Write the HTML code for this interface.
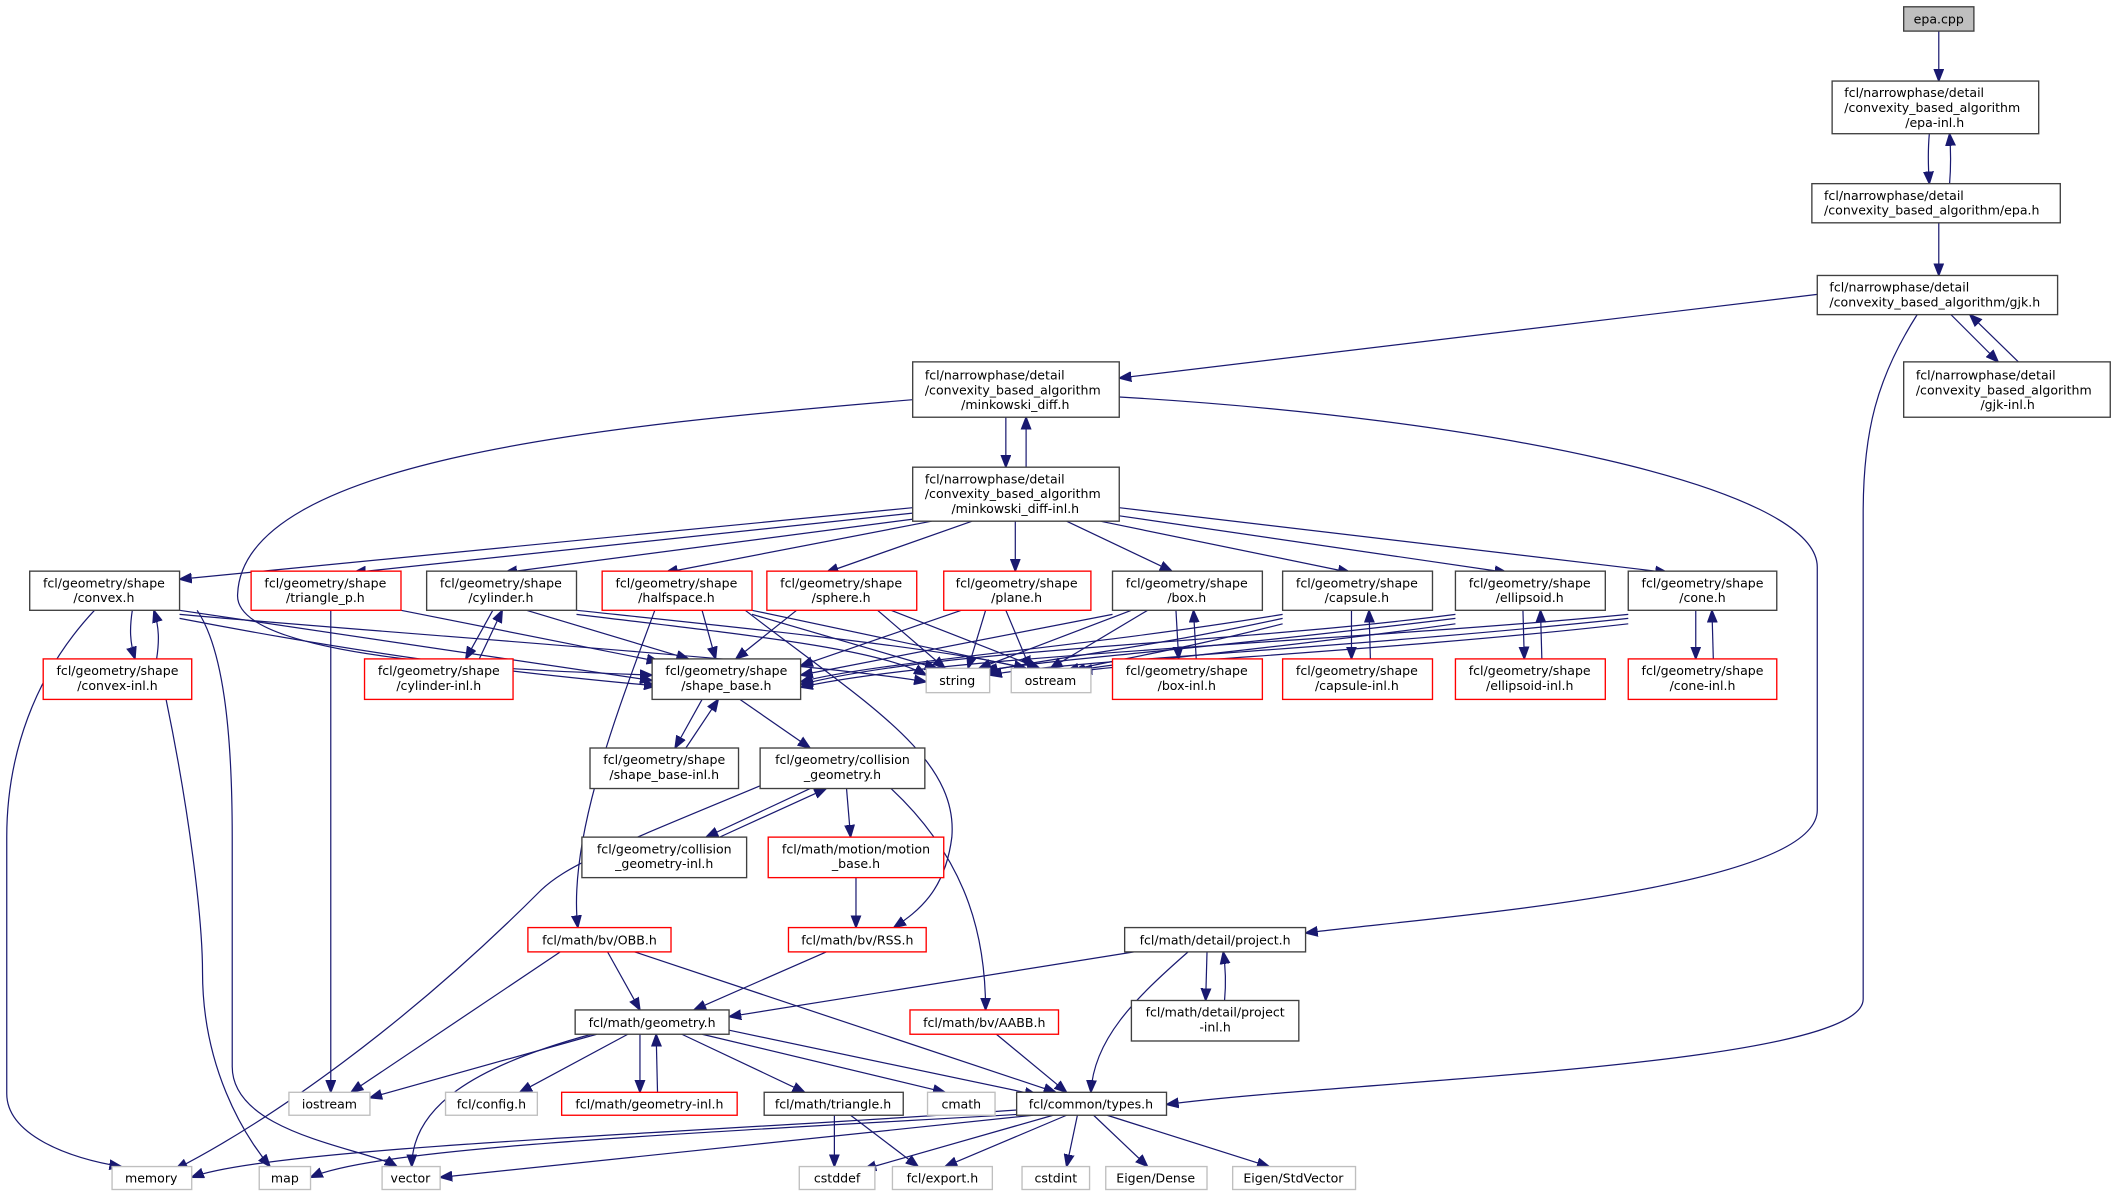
<!DOCTYPE html>
<html><head><meta charset="utf-8"><style>
html,body{margin:0;padding:0;background:#fff;}
svg{display:block;}
text{font-family:"DejaVu Sans","Liberation Sans",sans-serif;font-size:9.3px;fill:#000;}
.b{fill:#fff;stroke:#404040;stroke-width:1;}
.r{fill:#fff;stroke:#ff0000;stroke-width:1;}
.g{fill:#fff;stroke:#bfbfbf;stroke-width:1;}
.e{fill:none;stroke:#191970;stroke-width:0.9;marker-end:url(#a);}
</style></head><body>
<svg width="2117" height="1199" viewBox="0 0 1568 888" xmlns="http://www.w3.org/2000/svg">
<defs><marker id="a" markerWidth="10" markerHeight="8" refX="9" refY="4" orient="auto" markerUnits="userSpaceOnUse"><path d="M0,0.5 L9,4 L0,7.5 Z" fill="#191970" stroke="#191970"/></marker></defs>

<g>
<path class="e" d="M1436,23 L1436,60"/>
<path class="e" d="M1429,99 C1428,110 1428,122 1429,136"/>
<path class="e" d="M1444,136 C1445,124 1445,112 1444,99"/>
<path class="e" d="M1436,165 L1436,204"/>
<path class="e" d="M1445,233 L1480,268"/>
<path class="e" d="M1495,268 L1459,233"/>
<path class="e" d="M1346,218 L829,280"/>
<path class="e" d="M1420,233 C1390,280 1380,320 1380,380 L1380,740 C1380,790 1000,800 864,818"/>
<path class="e" d="M745,309 L745,346"/>
<path class="e" d="M760,346 L760,309"/>
<path class="e" d="M676,296 C450,315 180,340 176,440 C172,490 400,497 483,500"/>
<path class="e" d="M829,294 C1100,310 1346,360 1346,420 L1346,600 C1346,660 1050,680 967,691"/>
<path class="e" d="M676,376 L133,429"/>
<path class="e" d="M676,380 L262,424"/>
<path class="e" d="M680,384 L374,424"/>
<path class="e" d="M690,386 L493,424"/>
<path class="e" d="M720,386 L612,424"/>
<path class="e" d="M752,386 L752,423"/>
<path class="e" d="M790,386 L868,423"/>
<path class="e" d="M815,386 L1000,424"/>
<path class="e" d="M829,382 L1116,424"/>
<path class="e" d="M829,376 L1235,424"/>
<path class="e" d="M133,452 L483,504"/>
<path class="e" d="M133,458 C300,490 400,500 486,508"/>
<path class="e" d="M133,455 C300,470 600,490 686,505"/>
<path class="e" d="M98,452 C96,465 96,475 100,488"/>
<path class="e" d="M116,488 C118,475 118,465 114,452"/>
<path class="e" d="M70,452 C25,500 5,560 5,620 L5,810 C5,840 50,858 90,864"/>
<path class="e" d="M146,452 C165,480 172,540 172,620 L172,790 C172,840 270,850 294,864"/>
<path class="e" d="M123,518 C140,600 150,680 150,720 C150,790 180,840 200,864"/>
<path class="e" d="M297,452 L488,490"/>
<path class="e" d="M245,452 L245,809"/>
<path class="e" d="M390,452 L510,488"/>
<path class="e" d="M427,455 C550,470 650,480 686,500"/>
<path class="e" d="M427,452 C550,465 700,480 760,495"/>
<path class="e" d="M365,452 L345,488"/>
<path class="e" d="M355,488 L372,452"/>
<path class="e" d="M520,452 L530,488"/>
<path class="e" d="M557,455 L694,495"/>
<path class="e" d="M557,452 L760,495"/>
<path class="e" d="M485,452 C460,520 420,620 428,687"/>
<path class="e" d="M552,452 C640,520 710,560 705,620 C700,660 680,675 662,687"/>
<path class="e" d="M590,452 L545,488"/>
<path class="e" d="M650,452 L700,495"/>
<path class="e" d="M660,452 L770,495"/>
<path class="e" d="M712,452 L593,493"/>
<path class="e" d="M730,452 L717,495"/>
<path class="e" d="M745,452 L763,495"/>
<path class="e" d="M824,455 L593,500"/>
<path class="e" d="M838,452 L725,495"/>
<path class="e" d="M850,452 L778,495"/>
<path class="e" d="M871,452 L873,488"/>
<path class="e" d="M886,488 L884,452"/>
<path class="e" d="M950,455 C800,480 650,490 593,505"/>
<path class="e" d="M950,458 C850,480 760,490 728,498"/>
<path class="e" d="M950,462 C880,480 820,490 790,497"/>
<path class="e" d="M1001,452 L1001,488"/>
<path class="e" d="M1015,488 L1014,452"/>
<path class="e" d="M1078,455 C900,478 700,480 593,507"/>
<path class="e" d="M1078,458 C900,480 760,490 730,497"/>
<path class="e" d="M1078,462 C950,480 830,490 795,497"/>
<path class="e" d="M1128,452 L1129,488"/>
<path class="e" d="M1142,488 L1141,452"/>
<path class="e" d="M1206,455 C1000,475 700,485 593,509"/>
<path class="e" d="M1206,458 C1000,480 780,490 733,500"/>
<path class="e" d="M1206,462 C1050,480 850,490 800,497"/>
<path class="e" d="M1256,452 L1256,488"/>
<path class="e" d="M1269,488 L1268,452"/>
<path class="e" d="M520,518 L500,554"/>
<path class="e" d="M508,554 L532,518"/>
<path class="e" d="M548,518 L600,554"/>
<path class="e" d="M600,584 L523,620"/>
<path class="e" d="M533,620 L612,584"/>
<path class="e" d="M627,584 L630,620"/>
<path class="e" d="M563,582 C460,625 420,640 400,660 C300,760 200,830 130,866"/>
<path class="e" d="M660,584 C720,640 730,700 730,748"/>
<path class="e" d="M634,650 L634,687"/>
<path class="e" d="M612,705 L514,748"/>
<path class="e" d="M450,705 L474,748"/>
<path class="e" d="M415,705 L260,809"/>
<path class="e" d="M470,705 L782,809"/>
<path class="e" d="M840,705 L540,753"/>
<path class="e" d="M880,705 C840,740 810,770 808,809"/>
<path class="e" d="M894,705 L893,741"/>
<path class="e" d="M907,741 C908,730 908,718 906,705"/>
<path class="e" d="M738,766 L790,809"/>
<path class="e" d="M442,766 L274,813"/>
<path class="e" d="M438,766 C350,790 305,820 305,864"/>
<path class="e" d="M465,766 L385,809"/>
<path class="e" d="M474,766 L474,809"/>
<path class="e" d="M487,809 L486,766"/>
<path class="e" d="M505,766 L596,809"/>
<path class="e" d="M520,766 L700,809"/>
<path class="e" d="M540,763 L768,811"/>
<path class="e" d="M618,826 L618,864"/>
<path class="e" d="M630,826 L680,864"/>
<path class="e" d="M755,822 C500,840 200,850 142,872"/>
<path class="e" d="M760,825 C500,840 280,850 230,872"/>
<path class="e" d="M765,826 L326,872"/>
<path class="e" d="M780,826 L640,866"/>
<path class="e" d="M790,826 L700,864"/>
<path class="e" d="M798,826 L790,864"/>
<path class="e" d="M810,826 L850,864"/>
<path class="e" d="M820,826 L940,864"/>
</g>

<g>
<rect x="1410" y="5" width="52" height="18" fill="#bfbfbf" stroke="#404040"/><text x="1436" y="17.5" text-anchor="middle">epa.cpp</text>
<rect class="b" x="1357" y="60" width="153" height="39"/><text x="1366" y="72">fcl/narrowphase/detail</text><text x="1366" y="83">/convexity_based_algorithm</text><text x="1433" y="94" text-anchor="middle">/epa-inl.h</text>
<rect class="b" x="1342" y="136" width="184" height="29"/><text x="1351" y="148">fcl/narrowphase/detail</text><text x="1351" y="159">/convexity_based_algorithm/epa.h</text>
<rect class="b" x="1346" y="204" width="178" height="29"/><text x="1355" y="216">fcl/narrowphase/detail</text><text x="1355" y="227">/convexity_based_algorithm/gjk.h</text>
<rect class="b" x="1410" y="268" width="153" height="41"/><text x="1419" y="281">fcl/narrowphase/detail</text><text x="1419" y="292">/convexity_based_algorithm</text><text x="1487" y="303" text-anchor="middle">/gjk-inl.h</text>
<rect class="b" x="676" y="268" width="153" height="41"/><text x="685" y="281">fcl/narrowphase/detail</text><text x="685" y="292">/convexity_based_algorithm</text><text x="752" y="303" text-anchor="middle">/minkowski_diff.h</text>
<rect class="b" x="676" y="346" width="153" height="40"/><text x="685" y="358">fcl/narrowphase/detail</text><text x="685" y="369">/convexity_based_algorithm</text><text x="752" y="380" text-anchor="middle">/minkowski_diff-inl.h</text>
</g>
<g text-anchor="middle">
<rect class="b" x="22" y="423" width="111" height="29"/><text x="77" y="435">fcl/geometry/shape</text><text x="77" y="446">/convex.h</text>
<rect class="r" x="186" y="423" width="111" height="29"/><text x="241" y="435">fcl/geometry/shape</text><text x="241" y="446">/triangle_p.h</text>
<rect class="b" x="316" y="423" width="111" height="29"/><text x="371" y="435">fcl/geometry/shape</text><text x="371" y="446">/cylinder.h</text>
<rect class="r" x="446" y="423" width="111" height="29"/><text x="501" y="435">fcl/geometry/shape</text><text x="501" y="446">/halfspace.h</text>
<rect class="r" x="568" y="423" width="111" height="29"/><text x="623" y="435">fcl/geometry/shape</text><text x="623" y="446">/sphere.h</text>
<rect class="r" x="699" y="423" width="109" height="29"/><text x="753" y="435">fcl/geometry/shape</text><text x="753" y="446">/plane.h</text>
<rect class="b" x="824" y="423" width="111" height="29"/><text x="879" y="435">fcl/geometry/shape</text><text x="879" y="446">/box.h</text>
<rect class="b" x="950" y="423" width="111" height="29"/><text x="1005" y="435">fcl/geometry/shape</text><text x="1005" y="446">/capsule.h</text>
<rect class="b" x="1078" y="423" width="111" height="29"/><text x="1133" y="435">fcl/geometry/shape</text><text x="1133" y="446">/ellipsoid.h</text>
<rect class="b" x="1206" y="423" width="110" height="29"/><text x="1261" y="435">fcl/geometry/shape</text><text x="1261" y="446">/cone.h</text>

<rect class="r" x="32" y="488" width="110" height="30"/><text x="87" y="500">fcl/geometry/shape</text><text x="87" y="511">/convex-inl.h</text>
<rect class="r" x="270" y="488" width="110" height="30"/><text x="325" y="500">fcl/geometry/shape</text><text x="325" y="511">/cylinder-inl.h</text>
<rect class="b" x="483" y="488" width="110" height="30"/><text x="538" y="500">fcl/geometry/shape</text><text x="538" y="511">/shape_base.h</text>
<rect class="g" x="686" y="495" width="47" height="18"/><text x="709" y="507.5">string</text>
<rect class="g" x="749" y="495" width="59" height="18"/><text x="778" y="507.5">ostream</text>
<rect class="r" x="824" y="488" width="111" height="30"/><text x="879" y="500">fcl/geometry/shape</text><text x="879" y="511">/box-inl.h</text>
<rect class="r" x="950" y="488" width="111" height="30"/><text x="1005" y="500">fcl/geometry/shape</text><text x="1005" y="511">/capsule-inl.h</text>
<rect class="r" x="1078" y="488" width="111" height="30"/><text x="1133" y="500">fcl/geometry/shape</text><text x="1133" y="511">/ellipsoid-inl.h</text>
<rect class="r" x="1206" y="488" width="110" height="30"/><text x="1261" y="500">fcl/geometry/shape</text><text x="1261" y="511">/cone-inl.h</text>

<rect class="b" x="437" y="554" width="110" height="30"/><text x="492" y="566">fcl/geometry/shape</text><text x="492" y="577">/shape_base-inl.h</text>
<rect class="b" x="563" y="554" width="122" height="30"/><text x="624" y="566">fcl/geometry/collision</text><text x="624" y="577">_geometry.h</text>
<rect class="b" x="431" y="620" width="122" height="30"/><text x="492" y="632">fcl/geometry/collision</text><text x="492" y="643">_geometry-inl.h</text>
<rect class="r" x="569" y="620" width="130" height="30"/><text x="634" y="632">fcl/math/motion/motion</text><text x="634" y="643">_base.h</text>
<rect class="r" x="391" y="687" width="106" height="18"/><text x="444" y="699.5">fcl/math/bv/OBB.h</text>
<rect class="r" x="584" y="687" width="102" height="18"/><text x="635" y="699.5">fcl/math/bv/RSS.h</text>
<rect class="b" x="833" y="687" width="134" height="18"/><text x="900" y="699.5">fcl/math/detail/project.h</text>
<rect class="b" x="838" y="741" width="124" height="30"/><text x="900" y="753">fcl/math/detail/project</text><text x="900" y="764">-inl.h</text>
<rect class="r" x="674" y="748" width="110" height="18"/><text x="729" y="760.5">fcl/math/bv/AABB.h</text>
<rect class="b" x="426" y="748" width="114" height="18"/><text x="483" y="760.5">fcl/math/geometry.h</text>

<rect class="g" x="214" y="809" width="60" height="17"/><text x="244" y="821">iostream</text>
<rect class="g" x="330" y="809" width="68" height="17"/><text x="364" y="821">fcl/config.h</text>
<rect class="r" x="416" y="809" width="130" height="17"/><text x="481" y="821">fcl/math/geometry-inl.h</text>
<rect class="b" x="566" y="809" width="103" height="17"/><text x="617" y="821">fcl/math/triangle.h</text>
<rect class="g" x="687" y="809" width="50" height="17"/><text x="712" y="821">cmath</text>
<rect class="b" x="753" y="809" width="111" height="17"/><text x="808" y="821">fcl/common/types.h</text>

<rect class="g" x="83" y="864" width="59" height="17"/><text x="112" y="876">memory</text>
<rect class="g" x="192" y="864" width="38" height="17"/><text x="211" y="876">map</text>
<rect class="g" x="283" y="864" width="43" height="17"/><text x="304" y="876">vector</text>
<rect class="g" x="592" y="864" width="56" height="17"/><text x="620" y="876">cstddef</text>
<rect class="g" x="661" y="864" width="74" height="17"/><text x="698" y="876">fcl/export.h</text>
<rect class="g" x="757" y="864" width="50" height="17"/><text x="782" y="876">cstdint</text>
<rect class="g" x="819" y="864" width="75" height="17"/><text x="856" y="876">Eigen/Dense</text>
<rect class="g" x="913" y="864" width="91" height="17"/><text x="958" y="876">Eigen/StdVector</text>
</g>
</svg>
</body></html>
